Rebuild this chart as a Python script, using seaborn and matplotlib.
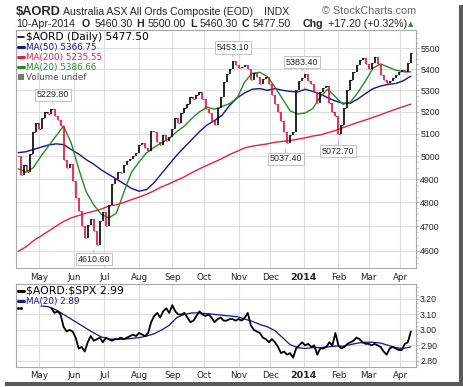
import numpy as np
import pandas as pd
import matplotlib
matplotlib.use('Agg')
import matplotlib.pyplot as plt
import seaborn as sns
from matplotlib.lines import Line2D
from matplotlib.patches import Rectangle
from matplotlib.ticker import FixedLocator, FuncFormatter, NullFormatter

#%%
# trading days on the chart
days = pd.bdate_range('2013-04-10', '2014-04-10')

# $AORD closes, every 2nd trading day (last one = 10-Apr-2014)
close = [5000, 4920, 4960, 4930, 5010, 5110, 5150, 5120, 5170, 5200,
         5190, 5215, 5180, 5165, 5135, 4985, 4950, 4965, 4890, 4820,
         4765, 4700, 4650, 4705, 4730, 4680, 4625, 4720, 4760, 4700,
         4790, 4880, 4900, 4930, 4925, 4960, 4980, 4990, 5000, 5015,
         5050, 5060, 5035, 5025, 5115, 5110, 5065, 5050, 5095, 5070,
         5085, 5120, 5170, 5150, 5195, 5220, 5235, 5270, 5260, 5280,
         5290, 5260, 5215, 5195, 5160, 5140, 5220, 5270, 5340, 5375,
         5400, 5440, 5420, 5405, 5410, 5420, 5400, 5350, 5380, 5365,
         5330, 5355, 5365, 5330, 5280, 5235, 5200, 5160, 5110, 5060,
         5095, 5110, 5300, 5345, 5360, 5375, 5345, 5330, 5290, 5240,
         5290, 5310, 5320, 5240, 5200, 5180, 5100, 5140, 5220, 5300,
         5350, 5385, 5420, 5445, 5455, 5425, 5400, 5430, 5460, 5425,
         5370, 5350, 5335, 5345, 5360, 5370, 5385, 5395, 5385, 5430,
         5477.5]

# moving averages, every 5th trading day
ma50 = [5016, 5020, 5030, 5040, 5050, 5055, 5052, 5030, 5010, 4985,
        4965, 4940, 4920, 4900, 4880, 4860, 4848, 4855, 4885, 4925,
        4965, 5005, 5040, 5075, 5110, 5140, 5160, 5185, 5230, 5265,
        5288, 5305, 5308, 5300, 5308, 5300, 5295, 5292, 5305, 5295,
        5283, 5265, 5250, 5240, 5240, 5260, 5285, 5308, 5320, 5328,
        5332, 5345, 5366.75]
ma200 = [4597, 4615, 4640, 4660, 4680, 4700, 4720, 4735, 4745, 4755,
         4763, 4772, 4785, 4790, 4800, 4812, 4823, 4835, 4850, 4867,
         4880, 4895, 4910, 4928, 4945, 4960, 4975, 4990, 5008, 5022,
         5037, 5045, 5050, 5055, 5062, 5066, 5070, 5076, 5082, 5090,
         5095, 5105, 5115, 5128, 5140, 5152, 5163, 5175, 5187, 5200,
         5212, 5224, 5235.55]
ma20 = [4945, 4930, 4950, 5000, 5045, 5090, 5135, 5060, 4945, 4845,
        4790, 4750, 4735, 4755, 4845, 4930, 4975, 5015, 5040, 5060,
        5080, 5110, 5135, 5170, 5200, 5222, 5212, 5225, 5238, 5265,
        5340, 5380, 5385, 5365, 5315, 5260, 5205, 5190, 5195, 5215,
        5270, 5305, 5270, 5235, 5245, 5290, 5345, 5405, 5425, 5410,
        5395, 5388, 5386.66]

# $AORD:$SPX ratio, every 2nd trading day (gap = no data)
ratio = [3.14, 3.14, np.nan, np.nan, np.nan, np.nan, np.nan, np.nan, np.nan, np.nan,
         np.nan, 3.14, 3.11, 3.12, 3.10, 3.02, 2.99, 3.00, 2.99, 2.95,
         2.88, 2.89, 2.86, 2.92, 2.96, 2.93, 2.94, 2.95, 2.92, 2.95,
         2.94, 2.93, 2.94, 2.94, 2.95, 2.94, 2.95, 2.96, 2.97, 2.96,
         2.98, 2.97, 2.96, 2.98, 3.05, 3.09, 3.11, 3.08, 3.12, 3.14,
         3.11, 3.16, 3.12, 3.10, 3.10, 3.11, 3.08, 3.05, 3.06, 3.09,
         3.12, 3.10, 3.09, 3.10, 3.08, 3.05, 3.07, 3.08, 3.06, 3.06,
         3.07, 3.07, 3.06, 3.07, 3.06, 3.08, 3.11, 3.03, 3.00, 2.99,
         2.98, 2.95, 2.94, 2.92, 2.94, 2.92, 2.89, 2.85, 2.86, 2.84,
         2.85, 2.82, 2.88, 2.90, 2.92, 2.90, 2.91, 2.89, 2.90, 2.84,
         2.88, 2.88, 2.89, 2.92, 2.90, 2.98, 2.90, 2.88, 2.89, 2.91,
         2.92, 2.93, 2.95, 2.94, 2.92, 2.91, 2.91, 2.90, 2.91, 2.90,
         2.89, 2.86, 2.84, 2.88, 2.89, 2.88, 2.87, 2.87, 2.91, 2.92,
         2.99]
ratio_ma20 = [np.nan, np.nan, np.nan, 3.155, 3.15, 3.13, 3.10, 3.07, 3.04, 3.01,
              2.98, 2.955, 2.94, 2.94, 2.94, 2.945, 2.95, 2.96, 2.975, 3.00,
              3.03, 3.08, 3.10, 3.11, 3.11, 3.105, 3.10, 3.095, 3.09, 3.085,
              3.07, 3.055, 3.035, 3.02, 2.995, 2.95, 2.905, 2.885, 2.88, 2.885,
              2.885, 2.89, 2.895, 2.895, 2.905, 2.915, 2.92, 2.92, 2.915, 2.90,
              2.885, 2.88, 2.89]

# labelled highs / lows
label_dates = ['2013-05-14', '2013-06-20', '2013-10-28', '2013-12-16', '2013-12-31', '2014-02-03']
label_values = [5229.80, 4610.60, 5453.10, 5037.40, 5383.40, 5072.70]
label_kind = ['high', 'low', 'high', 'low', 'high', 'low']

month_names = ['May', 'Jun', 'Jul', 'Aug', 'Sep', 'Oct', 'Nov', 'Dec', '2014', 'Feb', 'Mar', 'Apr']
price_ticks = [4600, 4700, 4800, 4900, 5000, 5100, 5200, 5300, 5400, 5500]
ratio_ticks = [2.80, 2.90, 3.00, 3.10, 3.20]

#%%
RED = '#d8143c'
NAVY = '#14148c'
MARED = '#e0204c'
GREEN = '#2d862d'
GRID = '#dcdcdc'
EDGE = '#a8a8a8'

sns.set_theme(style='white')
plt.rcParams['font.family'] = ['DejaVu Sans']

n = len(days)
pos = n - 1 - 2 * np.arange(len(close))[::-1]
ma_pos = n - 1 - 5 * np.arange(len(ma50))[::-1]
month_pos = days.searchsorted(pd.date_range('2013-05-01', '2014-04-01', freq='MS'))

fig = plt.figure(figsize=(4.64, 3.87), dpi=100)
W, H = 464, 387

def fx(px):
    return px / W

def fy(py):
    return 1 - py / H

# shadow on right and bottom
fig.patches.append(Rectangle((fx(459), fy(386)), fx(4), 381 / H, transform=fig.transFigure,
                             fc='#5a5a5a', ec='none', zorder=-4))
fig.patches.append(Rectangle((fx(5), fy(386)), fx(458), 4 / H, transform=fig.transFigure,
                             fc='#5a5a5a', ec='none', zorder=-4))

ax = fig.add_axes([fx(16), fy(268), fx(400), 238 / H])
ax2 = fig.add_axes([fx(16), fy(367), fx(400), 83 / H])

# ---- price bars
c = np.array(close)
prev = np.r_[c[0], c[:-1]]
up = c >= prev
lo = np.minimum(prev, c)
hi = np.maximum(prev, c)
ax.vlines(pos[up], lo[up], hi[up], color='black', lw=1.2, zorder=4)
ax.vlines(pos[~up], lo[~up], hi[~up], color=RED, lw=1.2, zorder=4)
ax.hlines(c[up], pos[up], pos[up] + 0.8, color='black', lw=0.8, zorder=4)
ax.hlines(c[~up], pos[~up], pos[~up] + 0.8, color=RED, lw=0.8, zorder=4)

ma = pd.DataFrame({'pos': ma_pos, 'ma50': ma50, 'ma200': ma200, 'ma20': ma20})
sns.lineplot(data=ma, x='pos', y='ma200', ax=ax, color=MARED, lw=1.0, estimator=None, errorbar=None, zorder=3)
sns.lineplot(data=ma, x='pos', y='ma50', ax=ax, color=NAVY, lw=1.0, estimator=None, errorbar=None, zorder=3)
sns.lineplot(data=ma, x='pos', y='ma20', ax=ax, color=GREEN, lw=1.0, estimator=None, errorbar=None, zorder=3)

for d, v, k in zip(label_dates, label_values, label_kind):
    p = days.searchsorted(pd.Timestamp(d))
    off = 7.5 if k == 'high' else -8.0
    ax.annotate(f'{v:.2f}', xy=(p, v), xytext=(0, off), textcoords='offset points',
                ha='center', va='center', fontsize=6.4, family='Liberation Sans', zorder=6,
                bbox=dict(boxstyle='square,pad=0.2', fc='white', ec='#b8b8b8', lw=0.6),
                arrowprops=dict(arrowstyle='-', color='#b8b8b8', lw=0.6, shrinkA=0, shrinkB=1))

ax.set_yscale('log')
ax.set_ylim(4530, 5590)
ax.yaxis.set_major_locator(FixedLocator(price_ticks))
ax.yaxis.set_major_formatter(FuncFormatter(lambda v, p: f'{v:.0f}'))
ax.yaxis.set_minor_locator(FixedLocator(np.arange(4550, 5590, 25)))
ax.yaxis.set_minor_formatter(NullFormatter())

# ---- ratio panel
rt = pd.DataFrame({'pos': pos, 'ratio': ratio})
early = rt.iloc[:2]
main = rt.iloc[11:]
ax2.plot(early['pos'], early['ratio'], ls='none', marker='s', ms=1.0, color='black')
sns.lineplot(data=main, x='pos', y='ratio', ax=ax2, color='black', lw=1.3, estimator=None, errorbar=None, zorder=4)
rm = pd.DataFrame({'pos': ma_pos, 'ma': ratio_ma20}).dropna()
sns.lineplot(data=rm, x='pos', y='ma', ax=ax2, color=NAVY, lw=0.9, estimator=None, errorbar=None, zorder=3)
ax2.set_ylim(2.76, 3.297)
ax2.yaxis.set_major_locator(FixedLocator(ratio_ticks))
ax2.yaxis.set_major_formatter(FuncFormatter(lambda v, p: f'{v:.2f}'))
ax2.yaxis.set_minor_locator(FixedLocator(np.arange(2.775, 3.29, 0.025)))

for a in (ax, ax2):
    a.set_xlim(-0.5, 264.4)
    a.set_xlabel('')
    a.set_ylabel('')
    a.yaxis.tick_right()
    a.set_xticks(month_pos)
    a.set_xticklabels(month_names)
    for t in a.get_xticklabels():
        if t.get_text() == '2014':
            t.set_fontweight('bold')
            t.set_fontsize(6.8)
        else:
            t.set_fontsize(6.3)
    a.tick_params(axis='x', length=0, pad=3.8, colors='#222222')
    a.tick_params(axis='y', which='major', length=2, width=0.6, pad=1, color=EDGE,
                  labelsize=6.3, labelcolor='#222222')
    a.tick_params(axis='y', which='minor', length=1.2, width=0.5, color=EDGE)
    for t in a.get_yticklabels():
        t.set_family('Liberation Sans')
    a.grid(True, which='major', color=GRID, lw=0.8)
    a.set_axisbelow(True)
    for s in a.spines.values():
        s.set_color(EDGE)
        s.set_linewidth(0.8)
ax2.tick_params(axis='x', pad=3.2)

# ---- legends
h_main = [Line2D([], [], color='black', lw=1.2),
          Line2D([], [], color=NAVY, lw=2.2),
          Line2D([], [], color=MARED, lw=2.2),
          Line2D([], [], color=GREEN, lw=2.2),
          Rectangle((0, 0), 1, 1, fc='#777777', ec='none')]
l_main = [r'\$AORD (Daily) 5477.50', 'MA(50) 5366.75', 'MA(200) 5235.55', 'MA(20) 5386.66', 'Volume undef']
leg = ax.legend(h_main, l_main, loc='upper left', bbox_to_anchor=(0.0, 1.0), frameon=False,
                fontsize=6.3, handlelength=0.7, handletextpad=0.2, labelspacing=0.12,
                borderaxespad=0.15, borderpad=0.1,
                labelcolor=['black', NAVY, MARED, GREEN, '#555555'])
leg.get_texts()[0].set_fontsize(7.6)

h2 = [Line2D([], [], color='black', lw=2.2), Line2D([], [], color=NAVY, lw=2.2)]
leg2 = ax2.legend(h2, [r'\$AORD:\$SPX 2.99', 'MA(20) 2.89'], loc='upper left', bbox_to_anchor=(0.0, 1.0),
                  frameon=False, fontsize=6.3, handlelength=0.7, handletextpad=0.2, labelspacing=0.15,
                  borderaxespad=0.1, borderpad=0.1, labelcolor=['black', NAVY])
leg2.get_texts()[0].set_fontsize(7.8)

# ---- header
fig.text(fx(16), fy(15), r'\$AORD', fontsize=9.3, fontweight='bold', family='Liberation Sans', va='baseline')
fig.text(fx(63), fy(15), 'Australia ASX All Ords Composite (EOD)', fontsize=7.6, family='Liberation Sans', va='baseline')
fig.text(fx(264), fy(15), 'INDX', fontsize=7.6, family='Liberation Sans', va='baseline')
fig.text(fx(416), fy(14), '\u00a9 StockCharts.com', fontsize=7.8, family='Liberation Sans', color='#666666',
         va='baseline', ha='right')

row = [(16, '10-Apr-2014', 'normal'), (82, 'O', 'bold'), (95, '5460.30', 'normal'),
       (136, 'H', 'bold'), (148, '5500.00', 'normal'), (190, 'L', 'bold'), (200, '5460.30', 'normal'),
       (242, 'C', 'bold'), (253, '5477.50', 'normal'), (303, 'Chg', 'bold'), (328, '+17.20 (+0.32%)', 'normal')]
for x, s, w in row:
    fig.text(fx(x), fy(27), s, fontsize=7.7, fontweight=w, family='Liberation Sans', va='baseline')
fig.text(fx(411), fy(26.5), '\u25b2', fontsize=5, color='#2d8a2d', va='baseline', ha='center')

fig.savefig('out.png', dpi=100)
